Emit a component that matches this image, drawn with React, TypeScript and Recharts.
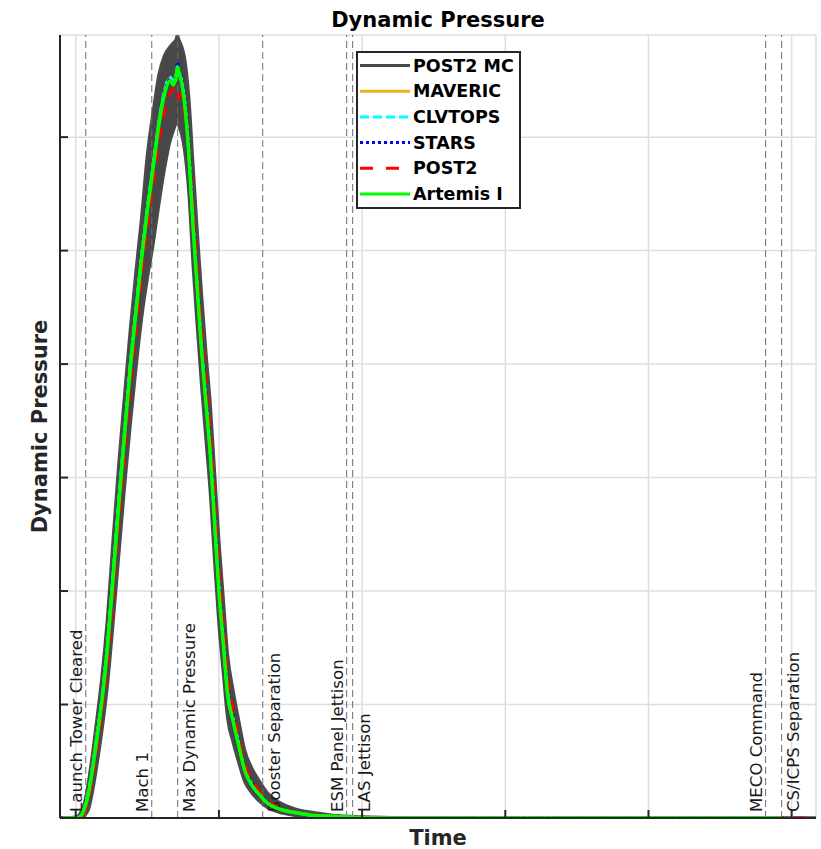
import React from "react";
import {
  ComposedChart,
  Area,
  Line,
  XAxis,
  YAxis,
  CartesianGrid,
  ReferenceLine,
} from "recharts";

// time since launch (s)
const times = [
  -11, -9, 0, 3, 6, 9, 12, 15, 18, 22,
  26, 30, 34, 38, 42, 46, 50, 54, 58, 62,
  66, 68, 70, 71, 72, 74, 76, 79, 82, 85,
  88, 91, 94, 97, 100, 103, 106, 110, 114, 118,
  123, 128, 134, 142, 152, 165, 180, 200, 230, 300,
  400, 480, 493, 497, 505, 512, 517,
];

// POST2 Monte Carlo envelope
const mcLow = [
  0, 0, 0, 0, 0.02, 0.08, 0.25, 0.48, 0.74, 1.15,
  1.7, 2.3, 2.9, 3.45, 3.95, 4.4, 4.75, 5.05, 5.4, 5.72,
  5.97, 6.05, 6.12, 6.15, 6.1, 6.02, 5.88, 5.5, 4.85, 4.3,
  3.78, 3.32, 2.85, 2.25, 1.7, 1.28, 0.88, 0.66, 0.48, 0.32,
  0.22, 0.15, 0.09, 0.05, 0.025, 0.01, 0.005, 0, 0, 0,
  0, 0, 0, 0, 0, 0, 0,
];
const mcHigh = [
  0, 0, 0.01, 0.04, 0.13, 0.33, 0.6, 0.9, 1.22, 1.75,
  2.45, 3.12, 3.72, 4.3, 4.82, 5.3, 5.85, 6.22, 6.55, 6.72,
  6.8, 6.83, 6.86, 6.9, 6.86, 6.8, 6.7, 6.35, 5.75, 5.15,
  4.6, 4.1, 3.65, 3.05, 2.45, 1.95, 1.45, 1.12, 0.85, 0.6,
  0.44, 0.33, 0.22, 0.14, 0.085, 0.05, 0.025, 0.012, 0.004, 0,
  0, 0, 0, 0, 0, 0, 0,
];

const maveric = [
  0, 0, 0, 0.01, 0.08, 0.23, 0.47, 0.74, 1.01, 1.5,
  2.12, 2.77, 3.38, 3.97, 4.47, 4.95, 5.37, 5.74, 6.12, 6.4,
  6.52, 6.5, 6.55, 6.6, 6.56, 6.5, 6.33, 5.88, 5.24, 4.68,
  4.13, 3.68, 3.22, 2.63, 2.04, 1.58, 1.13, 0.87, 0.65, 0.43,
  0.3, 0.21, 0.13, 0.08, 0.05, 0.025, 0.015, 0.005, 0, 0,
  0, 0, 0, null, null, null, null,
];
const clvtops = [
  0, 0, 0, 0.012, 0.09, 0.24, 0.48, 0.75, 1.03, 1.52,
  2.15, 2.8, 3.4, 3.99, 4.48, 4.96, 5.38, 5.75, 6.13, 6.41,
  6.53, 6.49, 6.54, 6.6, 6.57, 6.49, 6.31, 5.86, 5.21, 4.66,
  4.11, 3.66, 3.21, 2.61, 2.02, 1.56, 1.11, 0.86, 0.64, 0.42,
  0.29, 0.21, 0.13, 0.08, 0.05, 0.025, 0.015, 0.005, 0, 0,
  0, 0, 0, null, null, null, null,
];
const stars = [
  0, 0, 0, 0.01, 0.08, 0.22, 0.46, 0.73, 1.0, 1.49,
  2.1, 2.74, 3.35, 3.94, 4.44, 4.92, 5.34, 5.71, 6.09, 6.39,
  6.51, 6.48, 6.55, 6.66, 6.6, 6.52, 6.35, 5.92, 5.28, 4.72,
  4.17, 3.72, 3.27, 2.68, 2.08, 1.62, 1.16, 0.89, 0.66, 0.44,
  0.31, 0.22, 0.14, 0.085, 0.05, 0.025, 0.015, 0.005, 0, 0,
  0, 0, 0, 0, null, null, null,
];
const post2 = [
  0, 0, 0, 0.005, 0.05, 0.16, 0.38, 0.63, 0.9, 1.35,
  1.95, 2.6, 3.2, 3.8, 4.3, 4.78, 5.2, 5.58, 5.95, 6.22,
  6.38, 6.43, 6.36, 6.33, 6.38, 6.36, 6.22, 5.88, 5.35, 4.8,
  4.28, 3.82, 3.38, 2.82, 2.2, 1.72, 1.25, 0.95, 0.7, 0.48,
  0.34, 0.24, 0.15, 0.09, 0.055, 0.03, 0.015, 0.006, 0, 0,
  0, 0, 0, 0, 0, 0, null,
];
const artemis = [
  null, 0, 0, 0.01, 0.08, 0.22, 0.45, 0.72, 1.0, 1.48,
  2.1, 2.75, 3.36, 3.95, 4.45, 4.93, 5.35, 5.72, 6.1, 6.38,
  6.5, 6.46, 6.52, 6.62, 6.58, 6.48, 6.3, 5.85, 5.2, 4.65,
  4.1, 3.65, 3.2, 2.6, 2.0, 1.55, 1.1, 0.85, 0.63, 0.42,
  0.29, 0.21, 0.13, 0.08, 0.05, 0.025, 0.015, 0.005, 0, 0,
  0, 0, 0, null, null, null, null,
];

const eventNames = [
  "Launch Tower Cleared",
  "Mach 1",
  "Max Dynamic Pressure",
  "Booster Separation",
  "ESM Panel Jettison",
  "LAS Jettison",
  "MECO Command",
  "CS/ICPS Separation",
];
const eventTimes = [7, 53.1, 71.2, 130.6, 189.2, 193.4, 481.8, 493];
const eventSides = ["left", "left", "right", "right", "left", "right", "left", "right"];

const xTicks = [0, 100, 200, 300, 400, 500];
const yTicks = [0, 1, 2, 3, 4, 5, 6];

const FONT = "DejaVu Sans, Verdana, sans-serif";

const series = [
  { key: "maveric", name: "MAVERIC", color: "#EDB120", dash: undefined, width: 3 },
  { key: "clvtops", name: "CLVTOPS", color: "#00FFFF", dash: "9 4", width: 3 },
  { key: "stars", name: "STARS", color: "#0000FF", dash: "3 3", width: 3 },
  { key: "post2", name: "POST2", color: "#FF0000", dash: "12 10", width: 3 },
  { key: "artemis", name: "Artemis I", color: "#00FF00", dash: undefined, width: 3.5 },
];

const legendItems = [
  { name: "POST2 MC", color: "#4a4a4a", dash: undefined },
  { name: "MAVERIC", color: "#EDB120", dash: undefined },
  { name: "CLVTOPS", color: "#00FFFF", dash: "9 4" },
  { name: "STARS", color: "#0000FF", dash: "3 3" },
  { name: "POST2", color: "#FF0000", dash: "13 13" },
  { name: "Artemis I", color: "#00FF00", dash: undefined },
];

const data = times.map((t, i) => ({
  t,
  mc: [mcLow[i], mcHigh[i]],
  maveric: maveric[i],
  clvtops: clvtops[i],
  stars: stars[i],
  post2: post2[i],
  artemis: artemis[i],
}));

// MATLAB style ticks pointing into the axes
const XTick = (props: any) => (
  <line x1={props.x} y1={props.y} x2={props.x} y2={props.y - 8} stroke="#262626" strokeWidth={2} />
);
const YTick = (props: any) => (
  <line x1={props.x} y1={props.y} x2={props.x + 8} y2={props.y} stroke="#262626" strokeWidth={2} />
);

const eventLabel = (text: string, side: string) => (props: any) => {
  const vb = props.viewBox || {};
  const lx = side === "left" ? vb.x - 4 : vb.x + 17;
  const ly = vb.y + vb.height - 6;
  return (
    <text
      x={lx}
      y={ly}
      transform={`rotate(-90 ${lx} ${ly})`}
      fontSize={16.6}
      fontFamily={FONT}
      fill="#1a1a1a"
      textAnchor="start"
    >
      {text}
    </text>
  );
};

const App: React.FC = () => {
  return (
    <div style={{ position: "absolute", left: 0, top: 0, width: 821, height: 849, background: "#fff" }}>
      <ComposedChart
        width={821}
        height={849}
        data={data}
        margin={{ top: 35, right: 5, bottom: 0, left: 0 }}
      >
        <CartesianGrid stroke="#dedede" strokeWidth={1.5} />
        <XAxis
          dataKey="t"
          type="number"
          domain={[-11, 517]}
          ticks={xTicks}
          interval={0}
          allowDataOverflow
          height={31}
          tickSize={0}
          tickMargin={0}
          tickLine={false}
          tick={<XTick />}
          axisLine={{ stroke: "#262626", strokeWidth: 2 }}
          label={(p: any) => {
            const vb = p.viewBox || {};
            return (
              <text
                x={vb.x + vb.width / 2}
                y={vb.y + 27}
                textAnchor="middle"
                fontSize={21}
                fontWeight="bold"
                fontFamily={FONT}
                fill="#262626"
              >
                Time
              </text>
            );
          }}
        />
        <YAxis
          type="number"
          domain={[0, 6.9]}
          ticks={yTicks}
          interval={0}
          allowDataOverflow
          width={60}
          tickSize={0}
          tickMargin={0}
          tickLine={false}
          tick={<YTick />}
          axisLine={{ stroke: "#262626", strokeWidth: 2 }}
          label={(p: any) => {
            const vb = p.viewBox || {};
            const cx = vb.x + 47;
            const cy = vb.y + vb.height / 2;
            return (
              <text
                x={cx}
                y={cy}
                transform={`rotate(-90 ${cx} ${cy})`}
                textAnchor="middle"
                fontSize={21}
                fontWeight="bold"
                fontFamily={FONT}
                fill="#262626"
              >
                Dynamic Pressure
              </text>
            );
          }}
        />
        <Area
          dataKey="mc"
          type="monotone"
          stroke="#4a4a4a"
          strokeWidth={3}
          fill="#474747"
          fillOpacity={1}
          isAnimationActive={false}
          dot={false}
          activeDot={false}
        />
        {eventTimes.map((et, i) => (
          <ReferenceLine
            key={eventNames[i]}
            x={et}
            stroke="#6e6e6e"
            strokeWidth={1}
            strokeDasharray="7 4"
            label={eventLabel(eventNames[i], eventSides[i])}
          />
        ))}
        {series.map((s) => (
          <Line
            key={s.key}
            dataKey={s.key}
            name={s.name}
            type="monotone"
            stroke={s.color}
            strokeWidth={s.width}
            strokeDasharray={s.dash}
            dot={false}
            activeDot={false}
            isAnimationActive={false}
          />
        ))}
      </ComposedChart>

      <svg
        width={821}
        height={849}
        style={{ position: "absolute", left: 0, top: 0, pointerEvents: "none" }}
      >
        <text x={438} y={27} textAnchor="middle" fontSize={21} fontWeight="bold" fontFamily={FONT} fill="#000">
          Dynamic Pressure
        </text>
        <rect x={357} y={52} width={163} height={156} fill="#fff" stroke="#262626" strokeWidth={2} />
        {legendItems.map((it, i) => {
          const cy = 65.5 + i * 25.7;
          return (
            <g key={it.name}>
              <line x1={360} y1={cy} x2={410} y2={cy} stroke={it.color} strokeWidth={3} strokeDasharray={it.dash} />
              <text x={413} y={cy + 6} fontSize={17.5} fontWeight="bold" fontFamily={FONT} fill="#000">
                {it.name}
              </text>
            </g>
          );
        })}
      </svg>
    </div>
  );
};

export default App;
